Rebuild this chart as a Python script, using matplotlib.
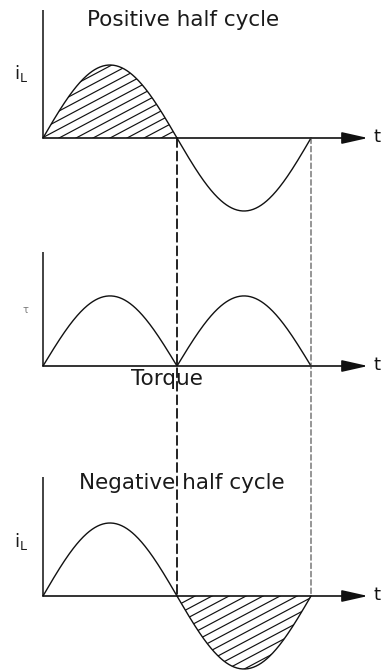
import numpy as np
import matplotlib
matplotlib.use("Agg")
import matplotlib.pyplot as plt
from matplotlib.patches import ConnectionPatch

# waveform description (one full cycle, angle in radians)
cycle_bounds = [0.0, np.pi, 2 * np.pi]
current_amp = 1.0
torque_amp = 0.96
titles = ["Positive half cycle", "Negative half cycle"]
torque_label = "Torque"
axis_labels = [r"$\mathregular{i_L}$", "τ", r"$\mathregular{i_L}$"]
time_label = "t"

W, H = 381, 670
PX_X = 268 / (2 * np.pi)   # px per radian
PX_Y = 73.0                # px per unit amplitude
X0 = 43


def make_axes(fig, top_px, bot_px, base_px):
    ax = fig.add_axes([0, 1 - bot_px / H, 1, (bot_px - top_px) / H])
    ax.set_xlim(-X0 / PX_X, (W - X0) / PX_X)
    ax.set_ylim(-(bot_px - base_px) / PX_Y, (base_px - top_px) / PX_Y)
    ax.axis("off")
    return ax


def draw_axes(ax, ytop):
    ax.plot([0, 0], [0, ytop], color="#222222", lw=1.2, solid_capstyle="butt")
    ax.annotate("", xy=((368 - X0) / PX_X, 0), xytext=(0, 0),
                arrowprops=dict(arrowstyle="-|>,head_length=1.6,head_width=0.36",
                                color="#111111", lw=1.2, shrinkA=0, shrinkB=0))
    ax.text((377 - X0) / PX_X, 0.02, time_label, ha="center", va="center",
            fontsize=13, color="#111111")


def hatch(ax, theta, y):
    poly = ax.fill_between(theta, y, 0, facecolor="none", edgecolor="none")
    path = poly.get_paths()[0]
    slope = 0.53 * PX_X / PX_Y   # data units per rad
    step = 17.0 / PX_X
    xs = np.array([-4.0, 10.0])
    for x0 in np.arange(-6, 10, step):
        ln, = ax.plot(xs, slope * (xs - x0), color="#111111", lw=0.85)
        ln.set_clip_path(path, ax.transData)


fig = plt.figure(figsize=(W / 100, H / 100), dpi=100)
fig.patch.set_facecolor("white")

theta = np.linspace(cycle_bounds[0], cycle_bounds[2], 400)
current = current_amp * np.sin(theta)
torque = torque_amp * np.abs(np.sin(theta))

# --- positive half cycle
ax1 = make_axes(fig, 0, 232, 138)
draw_axes(ax1, (138 - 10) / PX_Y)
ax1.plot(theta, current, color="#111111", lw=1.0)
pos = theta <= cycle_bounds[1]
hatch(ax1, theta[pos], current[pos])
ax1.text((183.5 - X0) / PX_X, (138 - 19.5) / PX_Y, titles[0], ha="center",
         va="center", fontsize=15.5, color="#1a1a1a")
ax1.text((21 - X0) / PX_X, (138 - 73) / PX_Y, axis_labels[0], ha="center",
         va="center", fontsize=13, color="#1a1a1a")

# --- torque
ax2 = make_axes(fig, 232, 400, 366)
draw_axes(ax2, (366 - 252) / PX_Y)
ax2.plot(theta, torque, color="#111111", lw=1.0)
ax2.text((166.5 - X0) / PX_X, (366 - 379) / PX_Y, torque_label, ha="center",
         va="center", fontsize=15.5, color="#1a1a1a")
ax2.text((25.5 - X0) / PX_X, (366 - 310.5) / PX_Y, axis_labels[1], ha="center",
         va="center", fontsize=7, color="#777777")

# --- negative half cycle
ax3 = make_axes(fig, 400, 670, 596)
draw_axes(ax3, (596 - 477) / PX_Y)
ax3.plot(theta, current, color="#111111", lw=1.0, clip_on=False)
neg = theta >= cycle_bounds[1]
hatch(ax3, theta[neg], current[neg])
ax3.text((181.5 - X0) / PX_X, (596 - 483) / PX_Y, titles[1], ha="center",
         va="center", fontsize=15.5, color="#1a1a1a")
ax3.text((21 - X0) / PX_X, (596 - 541) / PX_Y, axis_labels[2], ha="center",
         va="center", fontsize=13, color="#1a1a1a")

# dashed guides at the zero crossings
for xb, lw, col in [(cycle_bounds[1], 1.3, "#111111"), (cycle_bounds[2], 0.8, "#444444")]:
    con = ConnectionPatch(xyA=(xb, 0), coordsA=ax1.transData,
                          xyB=(xb, 0), coordsB=ax3.transData,
                          linestyle=(0, (5, 2.5)), color=col, lw=lw)
    fig.add_artist(con)

fig.savefig("out.png", dpi=100, facecolor="white")
